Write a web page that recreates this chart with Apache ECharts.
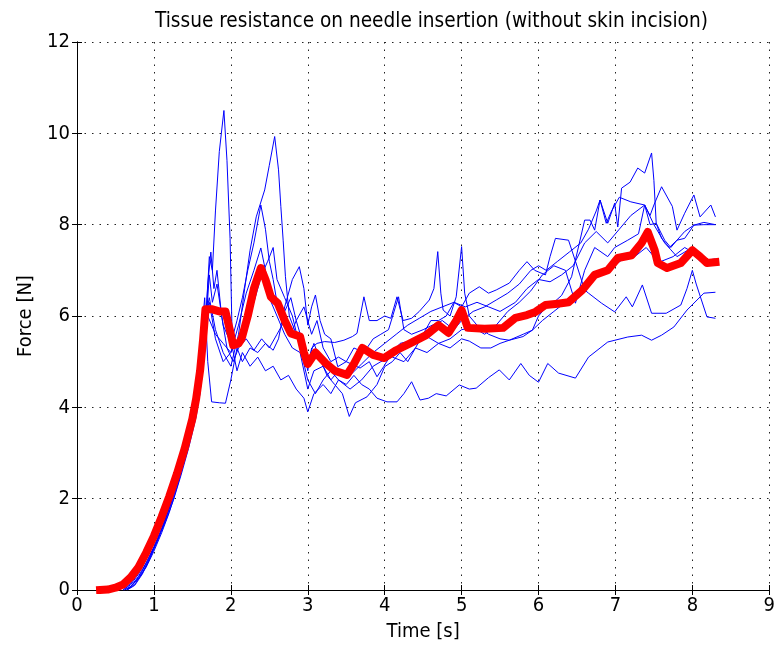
<!DOCTYPE html>
<html><head><meta charset="utf-8">
<script src="https://cdn.jsdelivr.net/npm/echarts@6/dist/echarts.min.js"></script>
<style>html,body{margin:0;padding:0;background:#fff}#c{width:778px;height:648px}</style>
</head><body><div id="c"></div>
<script>
var titleText = "Tissue resistance on needle insertion (without skin incision)";
var xName = "Time [s]";
var yName = "Force [N]";
var xTicks = [0,1,2,3,4,5,6,7,8,9];
var yTicks = [0,2,4,6,8,10,12];

// [time, force] pairs per trial
var trial1 = [[0.65,0],[0.8,0.25],[0.9,0.5],[1.0,0.85],[1.1,1.25],[1.2,1.7],[1.3,2.25],[1.4,2.85],[1.5,3.5],[1.6,4.3],[1.66,5.4],[1.72,7.3],[1.76,7.0],[1.8,8.3],[1.85,9.6],[1.91,10.5],[1.95,9.4],[1.99,7.7],[2.02,5.3],[2.08,4.8],[2.15,5.2],[2.25,4.9],[2.35,5.1],[2.45,4.8],[2.55,4.9],[2.65,4.6],[2.75,4.7],[2.85,4.4],[2.95,4.2],[3.0,3.9],[3.08,4.3],[3.2,4.5],[3.3,4.3],[3.4,4.6],[3.5,4.5],[3.6,4.7],[3.7,4.5],[3.8,4.4],[3.9,4.2],[4.03,4.12],[4.16,4.12],[4.25,4.3],[4.35,4.56],[4.46,4.16],[4.57,4.2],[4.67,4.3],[4.8,4.25],[4.97,4.49],[5.1,4.4],[5.19,4.42],[5.35,4.65],[5.49,4.82],[5.62,4.6],[5.77,4.96],[5.88,4.7],[6.0,4.55],[6.12,4.96],[6.26,4.75],[6.48,4.64],[6.65,5.1],[6.9,5.43],[7.16,5.54],[7.34,5.58],[7.47,5.47],[7.6,5.58],[7.76,5.76],[7.93,6.13],[8.15,6.5],[8.3,6.52]];
var trial2 = [[0.6,0],[0.7,0.12],[0.8,0.35],[0.9,0.68],[1.0,1.05],[1.1,1.45],[1.2,1.9],[1.3,2.45],[1.4,3.05],[1.5,3.7],[1.58,4.5],[1.65,5.8],[1.72,6.4],[1.8,5.7],[1.9,5.2],[2.0,4.9],[2.1,5.6],[2.18,6.6],[2.25,7.44],[2.33,8.17],[2.44,8.76],[2.5,9.3],[2.57,9.93],[2.62,9.2],[2.65,8.4],[2.68,7.66],[2.71,6.86],[2.76,6.0],[2.85,5.6],[2.95,5.3],[3.0,4.8],[3.05,5.3],[3.12,5.4],[3.22,5.44],[3.35,5.42],[3.47,5.47],[3.58,5.55],[3.64,5.62],[3.73,6.42],[3.8,5.9],[3.9,5.9],[4.0,6.0],[4.08,5.95],[4.16,6.42],[4.24,5.9],[4.35,5.95],[4.45,6.1],[4.58,6.35],[4.64,6.6],[4.69,7.41],[4.73,6.5],[4.76,6.13],[4.85,6.0],[4.93,6.42],[5.0,7.52],[5.04,6.5],[5.1,6.0],[5.2,5.8],[5.35,5.6],[5.5,5.5],[5.62,5.47],[5.8,5.6],[5.92,5.69],[6.0,6.0],[6.1,6.2],[6.2,6.3],[6.3,6.45],[6.43,6.86],[6.6,8.1],[6.67,8.1],[6.73,7.88],[6.8,8.54],[6.9,8.03],[6.99,8.47],[7.03,7.95],[7.08,8.8],[7.19,8.93],[7.29,9.24],[7.38,9.13],[7.47,9.57],[7.5,8.97],[7.53,8.03],[7.6,7.7],[7.7,7.5],[7.8,7.66],[7.9,7.85],[8.02,7.99],[8.15,8.0],[8.3,8.0]];
var trial3 = [[0.62,0],[0.7,0.08],[0.8,0.3],[0.9,0.6],[1.0,0.95],[1.1,1.35],[1.2,1.8],[1.3,2.35],[1.4,2.95],[1.5,3.6],[1.57,4.4],[1.62,5.6],[1.66,6.4],[1.7,5.0],[1.75,4.12],[1.85,4.1],[1.93,4.09],[2.0,4.6],[2.08,5.3],[2.15,5.0],[2.25,5.3],[2.35,5.2],[2.45,5.4],[2.55,5.25],[2.62,5.5],[2.7,6.2],[2.8,6.8],[2.89,7.08],[2.95,6.6],[3.0,5.8],[3.05,6.2],[3.1,6.46],[3.16,5.9],[3.22,5.6],[3.3,5.5],[3.39,4.89],[3.5,5.0],[3.68,4.86],[3.8,5.0],[3.9,4.67],[3.99,4.9],[4.1,5.2],[4.2,5.4],[4.37,5.47],[4.5,5.6],[4.6,5.9],[4.7,5.9],[4.8,6.0],[4.9,6.3],[5.0,6.2],[5.1,6.5],[5.23,6.64],[5.35,6.5],[5.45,6.57],[5.62,6.72],[5.75,7.0],[5.85,7.19],[5.95,7.0],[6.09,6.9],[6.15,7.3],[6.22,7.7],[6.39,7.66],[6.48,7.2],[6.6,6.57],[6.65,6.5],[6.82,6.28],[6.99,6.09],[7.14,6.42],[7.22,6.2],[7.35,6.68],[7.47,6.06],[7.66,6.06],[7.85,6.24],[7.93,6.6],[8.0,7.0],[8.05,6.7],[8.19,5.98],[8.3,5.95]];
var trial4 = [[0.65,0],[0.75,0.1],[0.85,0.35],[0.95,0.7],[1.05,1.1],[1.15,1.55],[1.25,2.05],[1.35,2.65],[1.45,3.3],[1.55,4.0],[1.62,4.8],[1.68,5.9],[1.72,6.9],[1.76,6.3],[1.82,6.7],[1.9,5.8],[2.0,5.4],[2.08,5.9],[2.15,6.4],[2.22,7.0],[2.3,7.6],[2.39,8.43],[2.45,7.9],[2.5,7.2],[2.55,6.8],[2.6,6.3],[2.7,6.1],[2.78,6.4],[2.85,5.9],[2.92,5.5],[3.0,5.0],[3.08,5.4],[3.15,5.1],[3.25,4.7],[3.35,4.5],[3.45,4.3],[3.54,3.8],[3.62,4.1],[3.77,4.23],[3.9,4.5],[4.0,4.89],[4.1,5.0],[4.2,5.2],[4.3,5.0],[4.4,5.3],[4.5,5.6],[4.6,5.5],[4.7,5.4],[4.85,5.5],[5.0,5.7],[5.15,5.75],[5.3,5.6],[5.45,5.8],[5.6,6.1],[5.75,6.3],[5.9,6.55],[6.05,6.9],[6.2,7.1],[6.35,7.0],[6.48,6.28],[6.6,7.0],[6.73,7.5],[6.9,7.3],[6.99,7.5],[7.16,7.66],[7.3,7.8],[7.38,8.43],[7.45,8.2],[7.5,8.43],[7.6,8.83],[7.74,8.4],[7.8,7.88],[7.9,8.25],[8.02,8.65],[8.1,8.17],[8.24,8.43],[8.3,8.17]];
var trial5 = [[0.6,0],[0.7,0.15],[0.8,0.4],[0.9,0.72],[1.0,1.1],[1.1,1.5],[1.2,1.95],[1.3,2.5],[1.4,3.1],[1.5,3.75],[1.6,4.7],[1.66,6.0],[1.72,6.3],[1.8,5.5],[1.9,5.0],[2.0,5.2],[2.1,5.8],[2.2,6.5],[2.3,7.0],[2.39,7.49],[2.45,7.0],[2.5,6.4],[2.6,6.0],[2.7,5.6],[2.8,5.3],[2.9,5.2],[3.0,4.4],[3.08,4.8],[3.2,4.9],[3.3,4.6],[3.4,4.8],[3.55,4.7],[3.7,4.95],[3.85,5.2],[4.0,5.4],[4.15,5.6],[4.3,5.8],[4.45,5.95],[4.6,6.1],[4.75,6.2],[4.9,6.3],[5.05,6.2],[5.2,6.3],[5.35,6.2],[5.5,6.1],[5.7,6.3],[5.85,6.6],[6.0,6.8],[6.15,6.75],[6.3,6.9],[6.45,7.1],[6.6,7.6],[6.75,7.85],[6.9,7.6],[7.05,7.9],[7.2,8.2],[7.38,8.43],[7.5,8.0],[7.64,7.6],[7.72,7.45],[7.8,7.3],[7.95,7.45],[8.1,7.2],[8.3,7.2]];
var trial6 = [[0.65,0],[0.75,0.12],[0.85,0.38],[0.95,0.72],[1.05,1.1],[1.15,1.5],[1.25,1.95],[1.35,2.5],[1.45,3.1],[1.55,3.8],[1.62,4.6],[1.7,6.0],[1.8,5.6],[1.9,5.4],[2.0,5.2],[2.1,5.5],[2.2,5.9],[2.3,6.3],[2.4,6.9],[2.48,7.2],[2.55,7.5],[2.6,6.8],[2.7,6.4],[2.8,6.0],[2.9,5.3],[3.0,4.6],[3.1,4.3],[3.2,4.6],[3.3,4.8],[3.4,4.6],[3.55,4.4],[3.7,4.6],[3.85,4.9],[3.95,5.0],[4.1,5.1],[4.25,5.0],[4.4,5.3],[4.55,5.2],[4.7,5.4],[4.85,5.3],[5.0,5.5],[5.1,5.45],[5.25,5.3],[5.38,5.3],[5.5,5.4],[5.62,5.47],[5.8,5.55],[5.92,5.69],[6.05,5.9],[6.2,6.1],[6.35,6.3],[6.5,6.5],[6.65,6.75],[6.8,7.0],[6.95,7.05],[7.1,7.25],[7.25,7.3],[7.4,7.5],[7.5,7.3],[7.6,7.2],[7.75,7.3],[7.9,7.5],[8.0,7.4],[8.1,7.2],[8.3,7.25]];
var trial7 = [[0.62,0],[0.72,0.1],[0.82,0.33],[0.92,0.65],[1.02,1.0],[1.12,1.4],[1.22,1.88],[1.32,2.42],[1.42,3.0],[1.52,3.65],[1.58,4.2],[1.64,5.0],[1.7,6.7],[1.74,7.4],[1.78,6.6],[1.82,7.0],[1.88,6.0],[1.95,5.3],[2.03,5.0],[2.1,5.3],[2.2,5.5],[2.3,5.25],[2.4,5.5],[2.5,5.3],[2.6,5.6],[2.7,5.9],[2.78,5.6],[2.85,5.9],[2.95,6.2],[3.05,5.6],[3.12,5.9],[3.2,5.3],[3.3,5.0],[3.4,5.1],[3.5,5.0],[3.6,5.3],[3.73,5.2],[3.85,5.5],[3.95,5.6],[4.05,5.7],[4.18,6.42],[4.25,5.7],[4.35,5.6],[4.5,5.7],[4.62,5.8],[4.75,5.9],[4.9,5.7],[5.0,5.9],[5.15,6.1],[5.3,6.2],[5.45,6.35],[5.6,6.5],[5.75,6.7],[5.9,7.0],[6.0,7.1],[6.1,7.0],[6.25,7.2],[6.4,7.4],[6.55,7.6],[6.65,7.9],[6.75,8.3],[6.8,8.54],[6.88,8.03],[6.95,8.3],[7.05,8.6],[7.2,8.5],[7.38,8.43],[7.45,8.0],[7.53,8.03],[7.64,7.66],[7.72,7.5],[7.8,7.66],[7.9,7.7],[8.02,7.99],[8.15,8.05],[8.3,8.0]];
var meanForce = [[0.3,0],[0.4,0.01],[0.5,0.05],[0.6,0.12],[0.7,0.28],[0.8,0.5],[0.9,0.82],[1.0,1.18],[1.1,1.6],[1.2,2.05],[1.3,2.55],[1.4,3.1],[1.5,3.75],[1.55,4.2],[1.6,4.8],[1.64,5.5],[1.67,6.15],[1.75,6.15],[1.85,6.1],[1.93,6.1],[2.0,5.6],[2.03,5.36],[2.1,5.4],[2.14,5.5],[2.22,6.0],[2.3,6.6],[2.39,7.05],[2.45,6.8],[2.52,6.42],[2.61,6.28],[2.7,5.9],[2.78,5.62],[2.9,5.55],[2.95,5.2],[3.0,4.95],[3.1,5.2],[3.23,4.97],[3.35,4.8],[3.51,4.71],[3.6,4.95],[3.71,5.3],[3.85,5.15],[3.99,5.08],[4.15,5.25],[4.33,5.4],[4.54,5.58],[4.7,5.8],[4.83,5.63],[4.93,5.9],[5.0,6.13],[5.08,5.74],[5.3,5.72],[5.54,5.74],[5.7,5.96],[5.85,6.02],[5.96,6.09],[6.09,6.24],[6.25,6.27],[6.39,6.3],[6.57,6.57],[6.73,6.9],[6.9,7.0],[7.03,7.27],[7.21,7.33],[7.34,7.6],[7.42,7.84],[7.51,7.44],[7.55,7.16],[7.67,7.05],[7.85,7.16],[8.0,7.44],[8.1,7.3],[8.19,7.16],[8.3,7.18]];

var trials = [trial1, trial2, trial3, trial4, trial5, trial6, trial7];
var FONT = "'DejaVu Sans Condensed', 'Liberation Sans', sans-serif";

var chart = echarts.init(document.getElementById('c'), null, {renderer: 'canvas'});
var series = trials.map(function (d) {
  return {type: 'line', data: d, showSymbol: false, animation: false, xAxisIndex: 0, yAxisIndex: 0,
    lineStyle: {color: '#0000ff', width: 1}, z: 2};
});
series.push({type: 'line', data: meanForce, showSymbol: false, animation: false,
  lineStyle: {color: '#ff0000', width: 8, cap: 'square', join: 'round'}, z: 3});

var dotted = {show: true, lineStyle: {color: '#222', width: 1, type: [1.5, 6]}};
chart.setOption({
  animation: false,
  backgroundColor: '#ffffff',
  title: {text: titleText, left: 150, top: 6,
    textStyle: {fontFamily: FONT, fontSize: 20.6, fontWeight: 'normal', color: '#000'}},
  grid: {left: 77, right: 2, top: 42, bottom: 58, containLabel: false},
  xAxis: [{type: 'value', min: xTicks[0], max: xTicks[xTicks.length-1], interval: 1,
      name: xName, nameLocation: 'middle', nameGap: 32,
      nameTextStyle: {fontFamily: FONT, fontSize: 20, color: '#000'},
      axisLine: {show: true, lineStyle: {color: '#000', width: 1}},
      axisTick: {show: true, inside: true, length: 5, lineStyle: {color: '#000'}},
      axisLabel: {fontFamily: FONT, fontSize: 20, color: '#000', margin: 6},
      splitLine: dotted},
    {type: 'value', position: 'top', min: xTicks[0], max: xTicks[xTicks.length-1], interval: 1,
      axisLine: {show: true, lineStyle: {color: '#000', width: 1}},
      axisTick: {show: true, inside: true, length: 5, lineStyle: {color: '#000'}},
      axisLabel: {show: false}, splitLine: {show: false}}],
  yAxis: [{type: 'value', min: yTicks[0], max: yTicks[yTicks.length-1], interval: 2,
      name: yName, nameLocation: 'middle', nameGap: 40,
      nameTextStyle: {fontFamily: FONT, fontSize: 20, color: '#000'},
      axisLine: {show: true, lineStyle: {color: '#000', width: 1}},
      axisTick: {show: true, inside: true, length: 5, lineStyle: {color: '#000'}},
      axisLabel: {fontFamily: FONT, fontSize: 20, color: '#000', margin: 7},
      splitLine: dotted},
    {type: 'value', position: 'right', min: yTicks[0], max: yTicks[yTicks.length-1], interval: 2,
      axisLine: {show: true, lineStyle: {color: '#000', width: 1}},
      axisTick: {show: true, inside: true, length: 5, lineStyle: {color: '#000'}},
      axisLabel: {show: false}, splitLine: {show: false}}],
  series: series
});
</script></body></html>
